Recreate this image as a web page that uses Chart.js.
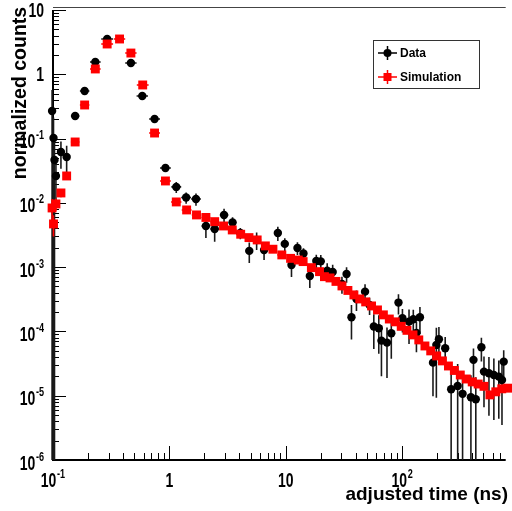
<!DOCTYPE html>
<html lang="en">
<head>
<meta charset="UTF-8" />
<title>Adjusted time</title>
<script src="https://cdn.jsdelivr.net/npm/chart.js@4"></script>
<style>
    body { margin: 0; background: #fff; }
    #box { width: 512px; height: 511px; }
</style>
</head>
<body>
<div id="box"><canvas id="grafico" width="512" height="511"></canvas></div>
<script>
// measured spectrum (black points)
const dataTime = [0.0982, 0.101, 0.103, 0.106, 0.117, 0.131, 0.155, 0.187, 0.231, 0.292,
    0.467, 0.585, 0.746, 0.925, 1.146, 1.393, 1.693, 2.06, 2.45, 2.95,
    3.49, 4.07, 4.86, 5.62, 6.51, 8.55, 9.81, 11.2, 12.6, 14.2,
    16.1, 18.3, 20.0, 22.7, 25.3, 30.4, 33.3, 36.7, 40.5, 48.0,
    52.5, 57.1, 63.0, 66.4, 74.1, 80.7, 93.0, 100.6, 114.6, 124.7,
    132.7, 142.2, 184.1, 196.8, 207.0, 234.4, 263.7, 300, 330.6, 389.9,
    410.2, 429.5, 479.7, 505, 557, 614, 677, 721, 746];
const dataCounts = [0.269, 0.102, 0.0465, 0.0262, 0.0619, 0.0517, 0.225, 0.550, 1.55, 3.54,
    1.50, 0.460, 0.202, 0.0349, 0.0177, 0.0121, 0.0115, 0.00437, 0.00393, 0.00649,
    0.00496, 0.00340, 0.00179, 0.00265, 0.00185, 0.00340, 0.00230, 0.00108, 0.00199, 0.00163,
    0.000730, 0.00125, 0.00123, 0.000883, 0.000841, 0.000548, 0.000783, 0.000166, 0.000320, 0.000416,
    0.000258, 0.000119, 0.000112, 7.19e-5, 6.70e-5, 9.38e-5, 2.81e-4, 1.60e-4, 1.42e-4, 1.55e-4,
    9.48e-5, 1.66e-4, 3.27e-5, 6.17e-5, 7.57e-5, 5.48e-5, 1.26e-5, 1.42e-5, 1.07e-5, 9.48e-6,
    3.61e-5, 8.83e-6, 5.68e-5, 2.37e-5, 2.24e-5, 2.10e-5, 1.98e-5, 1.76e-5, 3.39e-5];
const dataErr = [0.30, 0.11, 0.05, 0.0157, 0.0279, 0.0259, 0.0113, 0.022, 0.047, 0.106,
    0.045, 0.0138, 0.0081, 0.0021, 0.0035, 0.0024, 0.0025, 0.00153, 0.00145, 0.00162,
    0.00099, 0.00068, 0.00063, 0.0008, 0.00056, 0.00085, 0.00051, 0.00038, 0.00044, 0.00033,
    0.000256, 0.00031, 0.00031, 0.000265, 0.000252, 0.000164, 0.000211, 9.13e-5, 1.12e-4, 1.25e-4,
    7.74e-5, 6.55e-5, 6.72e-5, 5.18e-5, 4.82e-5, 5.63e-5, 9.84e-5, 6.4e-5, 7.81e-5, 6.2e-5,
    4.74e-5, 7.47e-5, 2.29e-5, 5.24e-5, 4.16e-5, 2.74e-5, 1.89e-5, 1.7e-5, 1.18e-5, 1.14e-5,
    1.81e-5, 1.06e-5, 2.27e-5, 1.71e-5, 1.75e-5, 1.68e-5, 1.54e-5, 1.41e-5, 1.7e-5];

// simulation (red squares)
const simTime = [0.0982, 0.101, 0.106, 0.117, 0.131, 0.155, 0.187, 0.231, 0.292, 0.373,
    0.467, 0.590, 0.746, 0.925, 1.146, 1.407, 1.710, 2.06, 2.45, 2.92,
    3.47, 4.10, 4.83, 5.68, 6.68, 7.76, 9.25, 11.0, 12.8, 14.1,
    16.6, 19.5, 21.5, 24.0, 27.0, 30.4, 34.2, 38.5, 43.2, 48.6,
    54.6, 61.4, 69.0, 77.6, 87.3, 98.2, 110, 124, 139, 157,
    176, 198, 222, 250, 281, 316, 356, 400, 450, 505,
    568, 638, 718, 807];
const simCounts = [0.00833, 0.00470, 0.00962, 0.01426, 0.0262, 0.0885, 0.333, 1.21, 2.96, 3.54,
    2.14, 0.682, 0.122, 0.0219, 0.01033, 0.00776, 0.00649, 0.00593, 0.00510, 0.00437,
    0.00379, 0.00325, 0.00288, 0.00265, 0.00214, 0.00190, 0.00155, 0.00137, 0.00129, 0.00122,
    0.000982, 0.000851, 0.000711, 0.000679, 0.000600, 0.000510, 0.000434, 0.000370, 0.000320, 0.000288,
    0.000249, 0.000216, 0.000181, 0.000156, 0.000141, 0.000120, 0.000104, 8.83e-5, 7.38e-5, 5.94e-5,
    4.98e-5, 4.16e-5, 3.48e-5, 2.90e-5, 2.47e-5, 2.10e-5, 1.82e-5, 1.64e-5, 1.52e-5, 1.40e-5,
    1.03e-5, 1.15e-5, 1.28e-5, 1.31e-5];
// only the early bins have errors larger than the marker
const simErr = [0.003, 0.0017, 0.002, 0.002, 0.002, 0.004, 0.008, 0.02, 0.04, 0.045,
    0.03, 0.01, 0.003, 0.0008, 0.0004];

// decade exponents used for the tick labels
const xLabelExp = [-1, 0, 1, 2];
const yLabelExp = [-6, -5, -4, -3, -2, -1, 0, 1];

const X_MIN = 0.1, X_MAX = 776;
const Y_MIN = 1e-6, Y_MAX = 10;
const LABEL_SX = 0.7;   // tick labels are drawn narrow

function errorBars(chart, xs, ys, es, color, width) {
    const { ctx, chartArea: a, scales: { x, y } } = chart;
    const px = xs.map(v => x.getPixelForValue(v));
    ctx.save();
    ctx.beginPath();
    ctx.rect(a.left - 4, a.top, a.right - a.left + 8, a.bottom - a.top);
    ctx.clip();
    ctx.strokeStyle = color;
    ctx.lineWidth = width;
    ys.forEach((v, i) => {
        const cx = px[i], cy = y.getPixelForValue(v);
        const gaps = [];
        if (i > 0) gaps.push(cx - px[i - 1]);
        if (i < px.length - 1) gaps.push(px[i + 1] - cx);
        const hw = Math.min(6, Math.min(...gaps) / 2);
        const e = es[i] || 0;
        ctx.beginPath();
        ctx.moveTo(cx - hw, cy);
        ctx.lineTo(cx + hw, cy);
        if (e > 0) {
            const top = y.getPixelForValue(v + e);
            const bot = v - e > 0 ? y.getPixelForValue(v - e) : a.bottom;
            ctx.moveTo(cx, top);
            ctx.lineTo(cx, bot);
        }
        ctx.stroke();
    });
    ctx.restore();
}

// "10" with a raised exponent, like ROOT log labels
function powLabel(ctx, exp, x, y, align) {
    const base = exp === 0 ? '1' : '10';
    const sup = (exp === 0 || exp === 1) ? '' : String(exp);
    ctx.save();
    ctx.translate(x, y);
    ctx.scale(LABEL_SX, 1);
    ctx.font = 'bold 20px "Liberation Sans", Arial, sans-serif';
    const wb = ctx.measureText(base).width;
    ctx.font = 'bold 13px "Liberation Sans", Arial, sans-serif';
    const ws = sup ? ctx.measureText(sup).width + 1 : 0;
    const total = wb + ws;
    const start = align === 'right' ? -total : -total / 2;
    ctx.fillStyle = '#000';
    ctx.textBaseline = 'alphabetic';
    ctx.textAlign = 'left';
    ctx.font = 'bold 20px "Liberation Sans", Arial, sans-serif';
    ctx.fillText(base, start, 0);
    if (sup) {
        ctx.font = 'bold 13px "Liberation Sans", Arial, sans-serif';
        ctx.fillText(sup, start + wb + 1, -9);
    }
    ctx.restore();
}

const rootFrame = {
    id: 'rootFrame',
    beforeDatasetsDraw(chart) {
        const { ctx, chartArea: a, scales: { x, y } } = chart;
        ctx.save();
        ctx.strokeStyle = '#000';
        // axes
        ctx.lineWidth = 2;
        ctx.beginPath();
        ctx.moveTo(a.left, a.top);
        ctx.lineTo(a.left, a.bottom);
        ctx.lineTo(a.right, a.bottom);
        ctx.stroke();
        ctx.lineWidth = 1;
        ctx.strokeStyle = '#444';
        ctx.beginPath();
        ctx.moveTo(a.left, a.top - 2.5);
        ctx.lineTo(a.right, a.top - 2.5);
        ctx.stroke();
        // ticks pointing into the frame
        ctx.strokeStyle = '#000';
        ctx.lineWidth = 1;
        ctx.beginPath();
        for (let n = -6; n <= 1; n++) {
            for (let k = 1; k <= 9; k++) {
                const v = k * Math.pow(10, n);
                if (v < Y_MIN || v > Y_MAX) continue;
                const py = Math.round(y.getPixelForValue(v)) + 0.5;
                const len = k === 1 ? 13 : 6;
                ctx.moveTo(a.left, py);
                ctx.lineTo(a.left + len, py);
            }
        }
        for (let n = -1; n <= 2; n++) {
            for (let k = 1; k <= 9; k++) {
                const v = k * Math.pow(10, n);
                if (v < X_MIN || v > X_MAX) continue;
                const px = Math.round(x.getPixelForValue(v)) + 0.5;
                const len = k === 1 ? 14 : 7;
                ctx.moveTo(px, a.bottom);
                ctx.lineTo(px, a.bottom - len);
            }
        }
        ctx.stroke();
        ctx.restore();
    },
    beforeDatasetDraw(chart, args) {
        if (args.index === 0) errorBars(chart, dataTime, dataCounts, dataErr, '#1a1a1a', 1.6);
        else errorBars(chart, simTime, simCounts, simErr, '#ff0000', 1.6);
    },
    afterDraw(chart) {
        const { ctx, scales: { x, y } } = chart;
        yLabelExp.forEach(n => {
            const py = y.getPixelForValue(Math.pow(10, n));
            powLabel(ctx, n, 44, py + (n === 0 || n === 1 ? 7 : 9.5), 'right');
        });
        xLabelExp.forEach(n => {
            powLabel(ctx, n, x.getPixelForValue(Math.pow(10, n)), 487, 'center');
        });

        ctx.save();
        ctx.fillStyle = '#000';
        ctx.font = 'bold 19px "Liberation Sans", Arial, sans-serif';
        ctx.textAlign = 'right';
        ctx.textBaseline = 'alphabetic';
        ctx.fillText('adjusted time (ns)', 508, 500);
        ctx.translate(26, 93);
        ctx.rotate(-Math.PI / 2);
        ctx.textAlign = 'center';
        ctx.font = 'bold 19.5px "Liberation Sans", Arial, sans-serif';
        ctx.fillText('normalized counts', 0, 0);
        ctx.restore();

        // legend box
        ctx.save();
        ctx.strokeStyle = '#333';
        ctx.lineWidth = 1;
        ctx.strokeRect(373.5, 40.5, 106, 48);
        ctx.lineWidth = 1.5;
        ctx.strokeStyle = '#000';
        ctx.beginPath();
        ctx.moveTo(378, 53); ctx.lineTo(397, 53);
        ctx.moveTo(387.5, 46); ctx.lineTo(387.5, 60);
        ctx.stroke();
        ctx.fillStyle = '#000';
        ctx.beginPath();
        ctx.arc(387.5, 53, 4, 0, 2 * Math.PI);
        ctx.fill();
        ctx.strokeStyle = '#ff0000';
        ctx.beginPath();
        ctx.moveTo(378, 77); ctx.lineTo(397, 77);
        ctx.moveTo(387.5, 70); ctx.lineTo(387.5, 84);
        ctx.stroke();
        ctx.fillStyle = '#ff0000';
        ctx.fillRect(383.5, 73, 8, 8);
        ctx.fillStyle = '#000';
        ctx.font = 'bold 12px "Liberation Sans", Arial, sans-serif';
        ctx.textBaseline = 'middle';
        ctx.fillText('Data', 400, 54);
        ctx.fillText('Simulation', 400, 78);
        ctx.restore();
    }
};

new Chart(document.getElementById('grafico'), {
    type: 'scatter',
    data: {
        datasets: [{
            label: 'Data',
            data: dataTime.map((t, i) => ({ x: t, y: dataCounts[i] })),
            pointStyle: 'circle',
            pointRadius: 4.2,
            backgroundColor: '#000',
            borderWidth: 0,
            clip: false,
            order: 2
        }, {
            label: 'Simulation',
            data: simTime.map((t, i) => ({ x: t, y: simCounts[i] })),
            pointStyle: 'rect',
            pointRadius: 6.3,
            backgroundColor: '#ff0000',
            borderWidth: 0,
            clip: false,
            order: 1
        }]
    },
    options: {
        responsive: false,
        animation: false,
        devicePixelRatio: 1,
        layout: { padding: { top: 10, right: 0, left: 0, bottom: 0 } },
        plugins: { legend: { display: false }, tooltip: { enabled: false } },
        events: [],
        scales: {
            x: {
                type: 'logarithmic', min: X_MIN, max: X_MAX,
                ticks: { display: false },
                grid: { display: false },
                border: { display: false },
                afterFit(s) { s.height = 51; }
            },
            y: {
                type: 'logarithmic', min: Y_MIN, max: Y_MAX,
                ticks: { display: false },
                grid: { display: false },
                border: { display: false },
                afterFit(s) { s.width = 53; }
            }
        }
    },
    plugins: [rootFrame]
});
</script>
</body>
</html>
